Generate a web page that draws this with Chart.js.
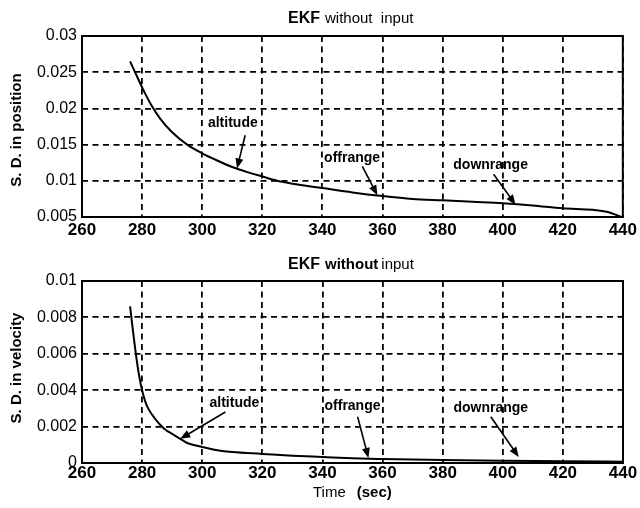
<!DOCTYPE html>
<html>
<head>
<meta charset="utf-8">
<script src="https://cdn.jsdelivr.net/npm/chart.js@4/dist/chart.umd.min.js"></script>
<style>
  body { margin: 0; background: #fff; }
  #wrap { position: relative; width: 640px; height: 508px; }
  canvas { position: absolute; left: 0; }
</style>
</head>
<body>
<div id="wrap">
  <canvas id="topChart" width="640" height="250" style="top:0"></canvas>
  <canvas id="botChart" width="640" height="258" style="top:250px"></canvas>
</div>
<script>
// x ticks shared by both panels
const xTicks = [260, 280, 300, 320, 340, 360, 380, 400, 420, 440];
const yTicksPos = [0.005, 0.01, 0.015, 0.02, 0.025, 0.03];
const yTicksVel = [0, 0.002, 0.004, 0.006, 0.008, 0.01];

// S.D. in position
const timePos = [276, 278, 280, 283, 286, 290, 295, 300, 305, 310, 315, 320, 325, 330, 340,
  350, 360, 370, 380, 390, 400, 410, 420, 430, 435, 439.5];
const sdPos = [0.0265, 0.0247, 0.0229, 0.0205, 0.0186, 0.0167, 0.0150, 0.0138, 0.0128, 0.0119, 0.0112,
  0.0106, 0.0100, 0.0096, 0.0090, 0.0084, 0.0079, 0.0075, 0.0073, 0.0071, 0.0069, 0.0066, 0.0062,
  0.0060, 0.0057, 0.0050];

// S.D. in velocity (bottom plot)
const timeVel = [276, 277, 278, 279, 280, 281, 282, 284, 286, 288, 290, 292, 295, 300, 305, 310,
  320, 330, 340, 350, 360, 380, 400, 420, 440];
const sdVel = [0.0086, 0.0072, 0.0059, 0.0048, 0.0040, 0.0034, 0.0030, 0.0025, 0.0021, 0.0018,
  0.0016, 0.0014, 0.0011, 0.00088, 0.0007, 0.0006, 0.0005, 0.0004, 0.00033, 0.00026, 0.00022,
  0.00016, 0.00012, 0.0001, 0.00007];

// arrow labels (data coords): text centre, arrow tail, arrow tip
const noteText = ['altitude', 'offrange', 'downrange'];
const posNoteT = [310.2, 349.9, 396];
const posNoteV = [0.0179, 0.0131, 0.0122];
const posTailT = [314.3, 353.3, 397];
const posTailV = [0.0163, 0.0120, 0.0109];
const posTipT = [311.6, 358.3, 404.3];
const posTipV = [0.0117, 0.0080, 0.0067];

const velNoteT = [310.7, 350, 396];
const velNoteV = [0.0033, 0.00315, 0.0030];
const velTailT = [307.7, 351.7, 396];
const velTailV = [0.0028, 0.00254, 0.00254];
const velTipT = [292.7, 355.3, 405.3];
const velTipV = [0.00133, 0.00028, 0.00033];

const NARROW = "'Liberation Sans Narrow', 'Liberation Sans', Arial, sans-serif";
const SANS = "'Liberation Sans', Arial, sans-serif";

function runs(ctx, parts, x, y) {
  // draw text pieces left to right starting at x
  ctx.textBaseline = 'middle';
  ctx.textAlign = 'left';
  parts.forEach(p => {
    ctx.font = p[1];
    ctx.fillText(p[0], x, y);
    x += ctx.measureText(p[0]).width + (p[2] || 0);
  });
}

function arrow(ctx, x1, y1, x2, y2) {
  const a = Math.atan2(y2 - y1, x2 - x1);
  const len = 10, w = 4;
  ctx.beginPath();
  ctx.moveTo(x1, y1);
  ctx.lineTo(x2 - Math.cos(a) * len * 0.6, y2 - Math.sin(a) * len * 0.6);
  ctx.stroke();
  ctx.beginPath();
  ctx.moveTo(x2, y2);
  ctx.lineTo(x2 - Math.cos(a) * len - Math.sin(a) * w, y2 - Math.sin(a) * len + Math.cos(a) * w);
  ctx.lineTo(x2 - Math.cos(a) * len + Math.sin(a) * w, y2 - Math.sin(a) * len - Math.cos(a) * w);
  ctx.closePath();
  ctx.fill();
}

const decor = {
  id: 'decor',
  afterDatasetsDraw(chart) {
    const o = chart.options.plugins.decor;
    const {ctx, chartArea: ca, scales: {x, y}} = chart;
    ctx.save();
    ctx.fillStyle = '#000';
    ctx.strokeStyle = '#000';
    // frame
    ctx.lineWidth = 2;
    ctx.strokeRect(ca.left, ca.top, ca.right - ca.left, ca.bottom - ca.top);
    // notes + arrows
    ctx.lineWidth = 1.6;
    o.text.forEach((t, i) => {
      ctx.font = 'bold 14px ' + NARROW;
      ctx.textAlign = 'center';
      ctx.textBaseline = 'middle';
      ctx.fillText(t, x.getPixelForValue(o.nt[i]), y.getPixelForValue(o.nv[i]));
      arrow(ctx, x.getPixelForValue(o.at[i]), y.getPixelForValue(o.av[i]),
        x.getPixelForValue(o.bt[i]), y.getPixelForValue(o.bv[i]));
    });
    // title
    runs(ctx, o.title, 288, o.titleY);
    // y axis title
    ctx.save();
    ctx.translate(17, o.yTitleY);
    ctx.rotate(-Math.PI / 2);
    ctx.font = 'bold 15px ' + SANS;
    ctx.textAlign = 'center';
    ctx.textBaseline = 'middle';
    ctx.fillText(o.yTitle, 0, 0);
    ctx.restore();
    if (o.xTitle) runs(ctx, o.xTitle, 313, o.xTitleY);
    ctx.restore();
  }
};

function makeConfig(times, vals, yTicks, yMin, yMax, xH, padTop, xPad, deco) {
  return {
    type: 'line',
    data: {
      datasets: [{
        data: times.map((t, i) => ({x: t, y: vals[i]})),
        borderColor: '#000',
        borderWidth: 2,
        pointRadius: 0,
        cubicInterpolationMode: 'monotone',
        fill: false
      }]
    },
    options: {
      responsive: false,
      animation: false,
      layout: {padding: {left: 0, right: 17, top: padTop, bottom: 0}},
      plugins: {legend: {display: false}, tooltip: {enabled: false}, decor: deco},
      scales: {
        x: {
          type: 'linear', min: 260, max: 440,
          afterBuildTicks: s => { s.ticks = xTicks.map(v => ({value: v})); },
          afterFit: s => { s.height = xH; },
          grid: {color: '#000', lineWidth: 1.8, drawTicks: false},
          border: {display: false, dash: [6, 4.5]},
          ticks: {color: '#000', padding: xPad, maxRotation: 0, autoSkip: false,
            font: {family: NARROW, size: 17, weight: 'bold'}}
        },
        y: {
          min: yMin, max: yMax,
          afterBuildTicks: s => { s.ticks = yTicks.map(v => ({value: v})); },
          afterFit: s => { s.width = 82; },
          grid: {color: '#000', lineWidth: 1.8, drawTicks: false},
          border: {display: false, dash: [6, 4.5]},
          ticks: {color: '#000', padding: 5, autoSkip: false,
            font: {family: NARROW, size: 16},
            callback: v => String(+v.toFixed(4))}
        }
      }
    },
    plugins: [decor]
  };
}

new Chart(document.getElementById('topChart'), makeConfig(timePos, sdPos, yTicksPos, 0.005, 0.03, 33, 36, 3, {
  text: noteText, nt: posNoteT, nv: posNoteV, at: posTailT, av: posTailV, bt: posTipT, bv: posTipV,
  title: [['EKF', 'bold 16px ' + NARROW, 5], ['without  input', '15px ' + SANS]], titleY: 19,
  yTitle: 'S. D. in position', yTitleY: 130
}));

new Chart(document.getElementById('botChart'), makeConfig(timeVel, sdVel, yTicksVel, 0, 0.01, 45, 31, 0, {
  text: noteText, nt: velNoteT, nv: velNoteV, at: velTailT, av: velTailV, bt: velTipT, bv: velTipV,
  title: [['EKF', 'bold 16px ' + NARROW, 5], ['without', 'bold 15px ' + NARROW, 3], ['input', '15px ' + SANS]], titleY: 15,
  yTitle: 'S. D. in velocity', yTitleY: 118,
  xTitle: [['Time', '15px ' + NARROW, 11], ['(sec)', 'bold 15px ' + SANS]], xTitleY: 243
}));
</script>
</body>
</html>
